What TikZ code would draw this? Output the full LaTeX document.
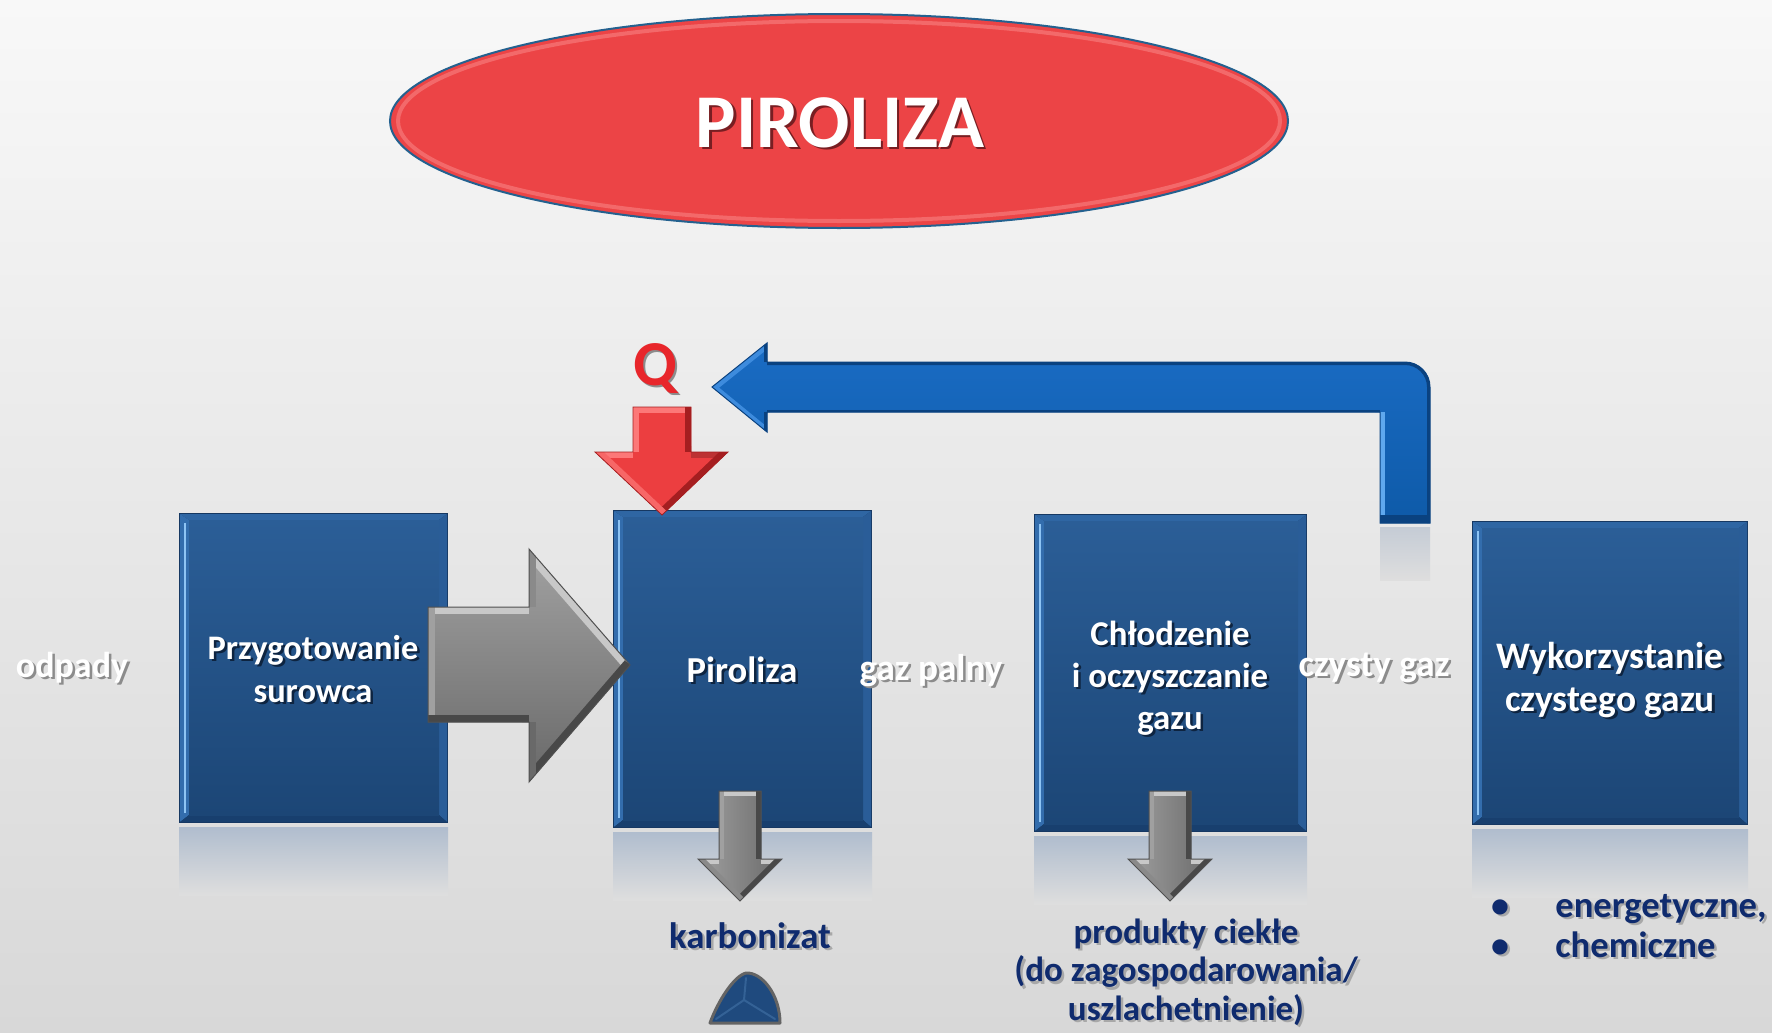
\documentclass[tikz,border=0pt]{standalone}
\usepackage{fontspec}
\setmainfont{Carlito}
\usetikzlibrary{calc}

% palette
\definecolor{bgTop}{RGB}{248,248,248}
\definecolor{bgBot}{RGB}{216,216,216}
\definecolor{reflTop}{RGB}{176,189,206}
\definecolor{reflBot}{RGB}{222,222,222}
\definecolor{boxRim}{RGB}{22,56,98}
\definecolor{boxTopF}{RGB}{47,102,163}
\definecolor{boxLeftF}{RGB}{51,109,173}
\definecolor{boxRightF}{RGB}{42,93,152}
\definecolor{boxBotF}{RGB}{24,63,110}
\definecolor{boxFaceTop}{RGB}{43,94,151}
\definecolor{boxFaceBot}{RGB}{28,70,118}
\definecolor{boxGlint}{RGB}{142,196,244}
\definecolor{boxShadow}{RGB}{14,36,64}
\definecolor{ovalRed}{RGB}{236,68,70}
\definecolor{ovalRim}{RGB}{36,97,143}
\definecolor{ovalGlow}{RGB}{248,130,130}
\definecolor{titleShadow}{RGB}{120,30,34}
\definecolor{qRed}{RGB}{232,38,43}
\definecolor{redMid}{RGB}{236,62,64}
\definecolor{redLight}{RGB}{252,120,120}
\definecolor{redDark}{RGB}{165,30,32}
\definecolor{blueMidTop}{RGB}{26,108,196}
\definecolor{blueMidBot}{RGB}{14,90,168}
\definecolor{blueLight}{RGB}{95,168,238}
\definecolor{blueEdge}{RGB}{61,139,221}
\definecolor{blueDark}{RGB}{10,66,128}
\definecolor{grayMid}{RGB}{138,138,138}
\definecolor{grayLeft}{RGB}{160,160,160}
\definecolor{grayRight}{RGB}{105,105,105}
\definecolor{grayLight}{RGB}{200,200,200}
\definecolor{grayDark}{RGB}{72,72,72}
\definecolor{grayLine}{RGB}{80,80,80}
\definecolor{shadeGray}{RGB}{140,140,140}
\definecolor{navyText}{RGB}{15,43,110}
\definecolor{navyShadow}{RGB}{168,168,168}
\definecolor{charFill}{RGB}{31,74,126}
\definecolor{charFacet}{RGB}{52,98,150}
\definecolor{charRim}{RGB}{100,100,100}

% a text node with a soft drop shadow behind it
\newcommand\castlabel[5]{%
  \node[#3, text=#4] (#1-cast) at ($(#2)+(2.5,2.5)$) {#5};
  \node[#3] (#1) at (#2) {#5};
}

% bevelled process block with its reflection; corners (x1,y1) (x2,y2)
\newcommand\stagebox[4]{%
  \shade[top color=reflTop, bottom color=reflBot] (#1,#4+4) rectangle (#3,#4+72);
  \fill[boxRim] (#1,#2) rectangle (#3,#4);
  \fill[boxTopF] (#1+1,#2+1) -- (#3-1,#2+1) -- (#3-9,#2+7) -- (#1+10,#2+7) -- cycle;
  \fill[boxLeftF] (#1+1,#2+1) -- (#1+10,#2+7) -- (#1+10,#4-8) -- (#1+1,#4-1) -- cycle;
  \fill[boxRightF] (#3-1,#2+1) -- (#3-1,#4-1) -- (#3-9,#4-8) -- (#3-9,#2+7) -- cycle;
  \fill[boxBotF] (#1+1,#4-1) -- (#3-1,#4-1) -- (#3-9,#4-8) -- (#1+10,#4-8) -- cycle;
  \shade[top color=boxFaceTop, bottom color=boxFaceBot] (#1+10,#2+7) rectangle (#3-9,#4-8);
  \draw[boxGlint, line width=1.2pt] (#1+6,#2+10) -- (#1+6,#4-10);
}

% small bevelled grey arrow pointing down, centred on x
\newcommand\grayDown[1]{%
  \begin{scope}
    \clip (#1-21,791) -- (#1+21,791) -- (#1+21,859) -- (#1+42,859) -- (#1,901) -- (#1-42,859) -- (#1-21,859) -- cycle;
    \shade[left color=grayLeft, right color=grayRight] (#1-42,791) rectangle (#1+42,901);
    \draw[grayLight, line width=5pt] (#1-21,791) -- (#1+21,791);
    \draw[grayLeft, line width=5pt] (#1-21,859) -- (#1-21,791);
    \draw[grayDark, line width=5pt] (#1+21,791) -- (#1+21,859);
    \draw[grayLight, line width=5pt] (#1-42,859) -- (#1-21,859);
    \draw[grayLight, line width=5pt] (#1+21,859) -- (#1+42,859);
    \draw[grayDark, line width=5pt] (#1+42,859) -- (#1,901);
    \draw[grayMid, line width=5pt] (#1,901) -- (#1-42,859);
  \end{scope}
  \draw[grayLine, line width=0.5pt, line join=miter] (#1-21,791) -- (#1+21,791) -- (#1+21,859) -- (#1+42,859) -- (#1,901) -- (#1-42,859) -- (#1-21,859) -- cycle;
}

\begin{document}
\begin{tikzpicture}[x=0.5pt, y=-0.5pt,
  txt/.style={inner sep=0pt, font=\fontsize{18}{21.5}\selectfont\bfseries},
  onbg/.style={txt, anchor=base, text=white},
  inbox/.style={txt, align=center, text=white},
  navy/.style={txt, text=navyText},
]
\useasboundingbox (0,0) rectangle (1772,1033);
\shade[top color=bgTop, bottom color=bgBot] (0,0) rectangle (1772,1033);

% title oval
\fill[ovalRed] (839,121) ellipse [x radius=449, y radius=107];
\draw[ovalGlow, line width=2pt, opacity=0.6] (839,121) ellipse [x radius=441, y radius=100];
\draw[ovalRim, line width=1pt] (839,121) ellipse [x radius=449, y radius=107];

% process blocks
\stagebox{179}{513}{448}{823}
\stagebox{613}{510}{872}{828}
\stagebox{1034}{514}{1307}{832}
\stagebox{1472}{521}{1748}{825}

% feed arrow into the reactor
\begin{scope}
  \clip (428,607) -- (529,607) -- (529,549) -- (630,665) -- (529,782) -- (529,722) -- (428,722) -- cycle;
  \shade[top color=grayMid!80!white, bottom color=grayRight] (428,549) rectangle (630,782);
  \draw[grayLight, line width=7pt] (428,607) -- (529,607);
  \draw[grayLeft, line width=7pt] (428,722) -- (428,607);
  \draw[grayLight, line width=7pt] (529,549) -- (630,665);
  \draw[grayDark, line width=7pt] (630,665) -- (529,782);
  \draw[grayDark, line width=7pt] (529,722) -- (428,722);
  \draw[grayMid, line width=7pt] (529,607) -- (529,549);
  \draw[grayRight, line width=7pt] (529,782) -- (529,722);
\end{scope}
\draw[grayLine, line width=0.5pt, line join=miter] (428,607) -- (529,607) -- (529,549) -- (630,665) -- (529,782) -- (529,722) -- (428,722) -- cycle;

% heat supply arrow
\begin{scope}
  \clip (633,407) -- (691,407) -- (691,452) -- (728,452) -- (662,515) -- (595,452) -- (633,452) -- cycle;
  \fill[redMid] (595,407) rectangle (728,515);
  \draw[redLight, line width=6pt] (633,407) -- (691,407);
  \draw[redLight, line width=6pt] (633,452) -- (633,407);
  \draw[redDark, line width=6pt] (691,407) -- (691,452);
  \draw[redLight, line width=6pt] (595,452) -- (633,452);
  \draw[redMid!80!black, line width=6pt] (691,452) -- (728,452);
  \draw[redDark, line width=6pt] (728,452) -- (662,515);
  \draw[redLight!70!redMid, line width=6pt] (662,515) -- (595,452);
\end{scope}
\draw[redDark, line width=0.4pt, line join=miter] (633,407) -- (691,407) -- (691,452) -- (728,452) -- (662,515) -- (595,452) -- (633,452) -- cycle;

% gas recycle arrow
\shade[top color=reflTop!55!reflBot, bottom color=reflBot] (1380,527) rectangle (1430,580);
\begin{scope}
  \clip (1430,523) -- (1430,387) .. controls (1430,373.2) and (1418.8,362) .. (1405,362) -- (767,362) -- (767,343) -- (712,387) -- (767,432) -- (767,412) -- (1380,412) -- (1380,523) -- cycle;
  \shade[top color=blueMidTop, bottom color=blueMidBot] (712,343) rectangle (1430,523);
  \draw[blueDark, line width=3pt] (1430,523) -- (1430,387) .. controls (1430,373.2) and (1418.8,362) .. (1405,362) -- (767,362);
  \draw[blueLight, line width=5pt] (1380,412) -- (1380,523);
  \draw[blueDark, line width=8pt] (1380,523) -- (1430,523);
  \draw[blueDark, line width=2pt] (767,412) -- (1380,412);
  \draw[blueEdge, line width=5pt] (767,343) -- (712,387);
  \draw[blueEdge, line width=4pt] (712,387) -- (767,432);
  \draw[blueDark, line width=3pt] (767,343) -- (767,362);
  \draw[blueDark, line width=3pt] (767,412) -- (767,432);
\end{scope}
\draw[blueDark, line width=0.5pt, line join=miter] (1430,523) -- (1430,387) .. controls (1430,373.2) and (1418.8,362) .. (1405,362) -- (767,362) -- (767,343) -- (712,387) -- (767,432) -- (767,412) -- (1380,412) -- (1380,523) -- cycle;

% product outlets
\grayDown{740}
\grayDown{1170}

% char heap
\fill[charFill] (710,1023) .. controls (718,1001) and (734,976) .. (746,973) .. controls (762,972) and (780,995) .. (780,1023) -- cycle;
\draw[charFacet, line width=1pt, line cap=round] (746,978) -- (744,1000) -- (716,1019);
\draw[charFacet, line width=1pt, line cap=round] (744,1000) -- (775,1019);
\draw[charRim, line width=1.5pt, line join=round] (710,1023) .. controls (718,1001) and (734,976) .. (746,973) .. controls (762,972) and (780,995) .. (780,1023) -- cycle;

% labels
\castlabel{title}{840,147}{onbg, font=\fontsize{38}{40}\selectfont\bfseries}{titleShadow}{PIROLIZA}
\castlabel{q}{655,385}{onbg, text=qRed, font=\fontsize{32}{34}\selectfont\bfseries}{shadeGray}{Q}
\castlabel{odpady}{72,677}{onbg}{shadeGray}{odpady}
\castlabel{gazpalny}{931,680}{onbg, font=\fontsize{18.6}{22}\selectfont\bfseries}{shadeGray}{gaz palny}
\castlabel{czystygaz}{1374,676}{onbg, font=\fontsize{18.6}{22}\selectfont\bfseries}{shadeGray}{czysty gaz}
\castlabel{prep}{313,669}{inbox, font=\fontsize{17.2}{21.5}\selectfont\bfseries}{boxShadow}{Przygotowanie\\surowca}
\castlabel{pyro}{742,682}{inbox, anchor=base, font=\fontsize{18.3}{22}\selectfont\bfseries}{boxShadow}{Piroliza}
\castlabel{cool}{1170,678}{inbox, font=\fontsize{17.4}{21}\selectfont\bfseries}{boxShadow}{Chłodzenie\\i~oczyszczanie\\gazu}
\castlabel{use}{1610,680}{inbox, font=\fontsize{18.7}{21.5}\selectfont\bfseries}{boxShadow}{Wykorzystanie\\czystego gazu}
\castlabel{char}{750,948}{navy, anchor=base, font=\fontsize{18.4}{22}\selectfont\bfseries}{navyShadow}{karbonizat}
\castlabel{liquid}{1186,972}{navy, align=center, font=\fontsize{17.5}{19.3}\selectfont\bfseries}{navyShadow}{produkty ciekłe\\(do zagospodarowania/\\uszlachetnienie)}
\castlabel{dot1}{1500,917}{navy, anchor=base}{navyShadow}{\textbullet}
\castlabel{dot2}{1500,957}{navy, anchor=base}{navyShadow}{\textbullet}
\castlabel{energy}{1555,917}{navy, anchor=base west, font=\fontsize{18.3}{22}\selectfont\bfseries}{navyShadow}{energetyczne,}
\castlabel{chem}{1555,957}{navy, anchor=base west, font=\fontsize{18.3}{22}\selectfont\bfseries}{navyShadow}{chemiczne}
\end{tikzpicture}
\end{document}
